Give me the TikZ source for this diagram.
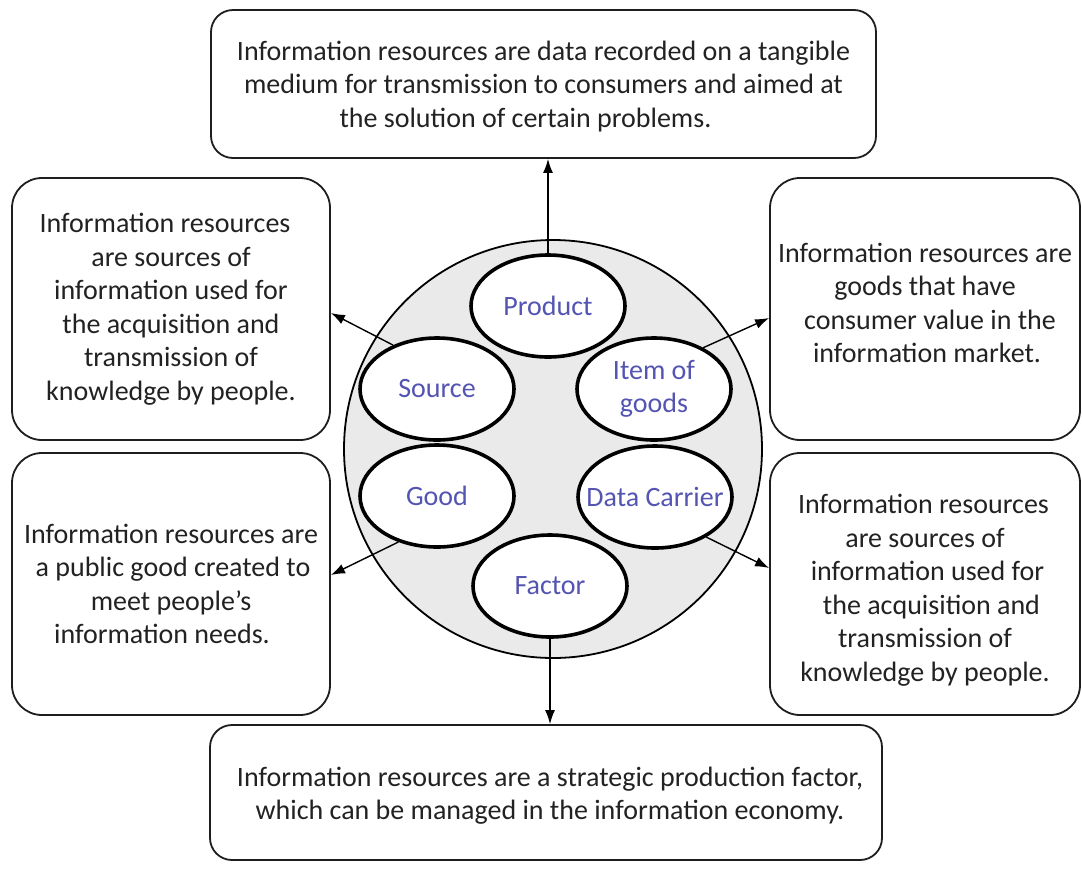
\documentclass[tikz,border=0pt]{standalone}
\usepackage{fontspec}
\setmainfont{Carlito}
\usetikzlibrary{shapes.geometric,arrows.meta}
\definecolor{txt}{RGB}{34,34,34}
\definecolor{lbl}{RGB}{84,84,178}
\definecolor{disc}{RGB}{234,234,234}
\definecolor{edge}{RGB}{30,30,30}
\begin{document}
\begin{tikzpicture}[x=1pt,y=-1pt,
  infobox/.style={draw=edge,line width=1.8pt,rounded corners=30pt,fill=white,
    align=center,text=txt,font=\fontsize{28}{33.5}\selectfont,inner sep=0pt},
  oval/.style={ellipse,draw=black,line width=3.6pt,fill=white,text=lbl,
    minimum width=154pt,minimum height=102pt,inner sep=0pt,align=center,
    font=\fontsize{28}{33}\selectfont},
  arr/.style={draw=black,line width=1.4pt,-{Latex[length=14pt,width=10pt]}}]
\useasboundingbox (0,0) rectangle (1082,871);
\fill[white] (0,0) rectangle (1082,871);
% disc
\node[circle,draw=black,line width=1.8pt,fill=disc,minimum size=418pt,inner sep=0pt] (disc) at (553,449) {};
% boxes
\node[infobox,rounded corners=22pt,minimum width=665pt,minimum height=148pt] (topbox) at (543.5,84)
 {\rule{0pt}{24pt}Information resources are data recorded on a tangible\\
  medium for transmission to consumers and aimed at\\
  the solution of certain problems.\hspace*{36pt}};
\node[infobox,minimum width=318pt,minimum height=262pt] (lbox1) at (171,309)
 {Information resources\hspace*{12pt}\\
  are sources of\hspace*{40pt}\\
  information used for\hspace*{8pt}\\
  the acquisition and\hspace*{10pt}\\
  transmission of\hspace*{22pt}\\
  knowledge by people.};
\node[infobox,minimum width=318pt,minimum height=262pt] (lbox2) at (171,584)
 {Information resources are\\
  \hspace*{4pt}a public good created to\\
  meet people{\char"27}s\hspace*{26pt}\\
  information needs.\hspace*{18pt}};
\node[infobox,minimum width=310pt,minimum height=262pt] (rbox1) at (925,309)
 {Information resources are\\
  goods that have\hspace*{30pt}\\
  \hspace*{10pt}consumer value in the\\
  \hspace*{4pt}information market.\\[-21.5pt]\mbox{}};
\node[infobox,minimum width=310pt,minimum height=262pt] (rbox2) at (925,584)
 {\rule{0pt}{32pt}Information resources\hspace*{3pt}\\
  are sources of\hspace*{30pt}\\
  \hspace*{5pt}information used for\\
  \hspace*{13pt}the acquisition and\\
  transmission of\hspace*{4pt}\\
  knowledge by people.};
\node[infobox,rounded corners=22pt,minimum width=672pt,minimum height=135pt] (botbox) at (546,792.5)
 {\rule{0pt}{26pt}\hspace*{8pt}Information resources are a strategic production factor,\\
  \hspace*{8pt}which can be managed in the information economy.};
% ovals
\node[oval] (prod) at (548,306) {Product};
\node[oval] (src)  at (437,389) {Source};
\node[oval] (item) at (654,389) {Item of\\goods};
\node[oval] (good) at (437,496) {Good};
\node[oval,inner xsep=-24pt] (data) at (655,497) {Data Carrier};
\node[oval] (fact) at (550,586) {Factor};
% connectors
\draw[arr] (prod.north) -- (prod.north |- topbox.south);
\draw[arr] (fact.south) -- (fact.south |- botbox.north);
\draw[arr] (src.135) -- ([yshift=-4pt]lbox1.east);
\draw[arr] (item.40) -- ([yshift=-9pt]rbox1.west);
\draw[arr] (good.-130) -- ([yshift=9pt]lbox2.east);
\draw[arr] (data.-38) -- ([yshift=16pt]rbox2.west);
\end{tikzpicture}
\end{document}
